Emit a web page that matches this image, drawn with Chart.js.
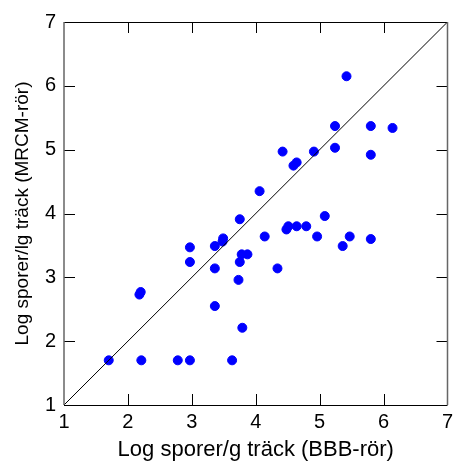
<!DOCTYPE html>
<html>
<head>
<meta charset="utf-8">
<script src="https://cdn.jsdelivr.net/npm/chart.js@4.4.1/dist/chart.umd.min.js"></script>
<style>
    html, body { margin: 0; padding: 0; background: #fff; }
    #wrap { width: 453px; height: 463px; }
</style>
</head>
<body>
<div id="wrap"><canvas id="chart1"></canvas></div>
<script>
// Log sporer/g träck, BBB-rör (x) mot MRCM-rör (y)
const sporerBBB = [
    5.42, 5.24, 5.80, 6.14, 4.42, 4.91, 5.24, 5.80, 4.64, 4.59, 4.06,
    3.75, 5.08, 4.51, 4.48, 4.64, 4.79, 4.14, 4.96, 5.47, 5.36, 5.80,
    2.97, 3.36, 3.49, 3.48, 3.78, 3.87, 3.75, 2.97, 3.36, 4.34, 3.73,
    2.20, 2.18, 3.36, 3.79, 1.70, 2.21, 2.78, 2.97, 3.63
];
const sporerMRCM = [
    6.15, 5.37, 5.37, 5.34, 4.97, 4.97, 5.03, 4.92, 4.80, 4.75, 4.35,
    3.91, 3.96, 3.80, 3.75, 3.80, 3.80, 3.64, 3.64, 3.64, 3.49, 3.60,
    3.47, 3.49, 3.61, 3.56, 3.36, 3.36, 3.24, 3.24, 3.14, 3.14, 2.96,
    2.77, 2.73, 2.55, 2.21, 1.70, 1.70, 1.70, 1.70, 1.70
];
const axelMin = 1;
const axelMax = 7;
const tickVarden = [1, 2, 3, 4, 5, 6, 7];

const punkter = sporerBBB.map((x, i) => { return { x: x, y: sporerMRCM[i] } });
const diagonal = [{ x: axelMin, y: axelMin }, { x: axelMax, y: axelMax }];

// ram och inåtriktade tickar på alla fyra sidor
const ramPlugin = {
    id: 'ram',
    afterDraw(chart) {
        const ctx = chart.ctx;
        const a = chart.chartArea;
        const xs = chart.scales.x;
        const ys = chart.scales.y;
        const len = 11;
        ctx.save();
        ctx.lineWidth = 1;
        ctx.strokeStyle = '#000';
        ctx.beginPath();
        ctx.moveTo(a.left, a.top + 0.5); ctx.lineTo(a.right, a.top + 0.5);
        ctx.moveTo(a.left, a.bottom + 0.5); ctx.lineTo(a.right, a.bottom + 0.5);
        tickVarden.slice(1, -1).forEach((v) => {
            const px = Math.round(xs.getPixelForValue(v)) + 0.5;
            ctx.moveTo(px, a.bottom); ctx.lineTo(px, a.bottom - len);
            ctx.moveTo(px, a.top); ctx.lineTo(px, a.top + len);
            const py = Math.round(ys.getPixelForValue(v)) + 0.5;
            ctx.moveTo(a.left, py); ctx.lineTo(a.left + len, py);
            ctx.moveTo(a.right, py); ctx.lineTo(a.right - len, py);
        });
        ctx.stroke();
        ctx.strokeStyle = '#666';
        ctx.lineWidth = 1.5;
        ctx.beginPath();
        ctx.moveTo(a.left, a.top); ctx.lineTo(a.left, a.bottom);
        ctx.moveTo(a.right, a.top); ctx.lineTo(a.right, a.bottom);
        ctx.stroke();
        ctx.restore();
    }
};

const data = {
    datasets: [{
        type: 'line',
        label: 'Diagonal',
        data: diagonal,
        borderColor: '#000',
        borderWidth: 1,
        pointRadius: 0,
        fill: false
    }, {
        type: 'scatter',
        label: 'Prover',
        data: punkter,
        backgroundColor: '#0000ff',
        borderColor: '#0000ff',
        pointRadius: 4.5,
        pointHoverRadius: 4.5
    }]
};

const config = {
    type: 'scatter',
    data: data,
    options: {
        responsive: true,
        maintainAspectRatio: false,
        animation: false,
        layout: { padding: { left: 0, right: 0, top: 22, bottom: 0 } },
        plugins: {
            legend: { display: false },
            tooltip: { enabled: false }
        },
        scales: {
            x: {
                type: 'linear',
                min: axelMin,
                max: axelMax,
                afterFit: (scale) => {
                    scale.height = 58;
                    scale.paddingRight = 5;
                },
                grid: { display: false, drawTicks: false },
                border: { display: false },
                ticks: {
                    stepSize: 1,
                    padding: 5,
                    color: '#000',
                    font: { family: 'Liberation Sans, Arial', size: 20 }
                },
                title: {
                    display: true,
                    text: 'Log sporer/g träck (BBB-rör)',
                    color: '#000',
                    padding: { top: 0, bottom: 0 },
                    font: { family: 'Liberation Sans, Arial', size: 22 }
                }
            },
            y: {
                type: 'linear',
                min: axelMin,
                max: axelMax,
                afterFit: (scale) => { scale.width = 64; },
                grid: { display: false, drawTicks: false },
                border: { display: false },
                ticks: {
                    stepSize: 1,
                    padding: 8,
                    color: '#000',
                    font: { family: 'Liberation Sans, Arial', size: 20 }
                },
                title: {
                    display: true,
                    text: 'Log sporer/lg träck (MRCM-rör)',
                    color: '#000',
                    padding: { top: 11, bottom: 0 },
                    font: { family: 'Liberation Sans, Arial', size: 19 }
                }
            }
        }
    },
    plugins: [ramPlugin]
};

const canva = document.getElementById('chart1');
const grafico = new Chart(canva, config);
</script>
</body>
</html>
